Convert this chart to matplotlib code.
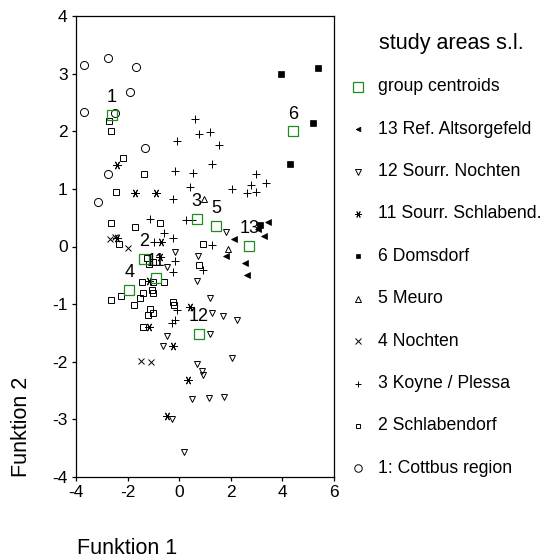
import matplotlib
matplotlib.use("Agg")
import matplotlib.pyplot as plt
from matplotlib.lines import Line2D

plt.rcParams['font.family'] = ['Liberation Sans', 'DejaVu Sans']
plt.rcParams['axes.unicode_minus'] = False

# ---- data (Funktion 1, Funktion 2) ----
g1_x = [-3.68, -2.75, -1.66, -1.91, -3.68, -2.49, -1.33, -2.75, -3.14]
g1_y = [3.15, 3.27, 3.12, 2.68, 2.34, 2.32, 1.71, 1.25, 0.77]

g2_x = [-2.72, -2.66, -2.17, -1.36, -2.45, -2.66, -1.72, -0.74, -2.34, 0.93,
        -1.25, -1.16, -1.03, 0.78, -1.45, -1.03, -0.58, -2.66, -2.27, -1.75,
        -1.52, -1.39, -1.07, -1.03, -1.13, -1.20, -1.03, -0.23, -0.20, -1.41]
g2_y = [2.18, 2.01, 1.53, 1.26, 0.95, 0.41, 0.33, 0.40, 0.04, 0.05,
        -0.20, -0.31, -0.27, -0.32, -0.61, -0.61, -0.61, -0.93, -0.86, -1.02,
        -0.90, -0.81, -0.76, -0.80, -1.09, -1.19, -1.16, -0.96, -1.02, -1.39]

g3_x = [0.61, 0.78, 1.19, 1.55, -0.10, 1.28, -0.16, 0.52, 0.43, -0.23,
        -1.13, 0.26, 0.48, 2.98, 3.35, 2.77, 2.03, 2.62, 2.98, 1.26,
        -0.59, -0.23, -0.96, -0.16, -0.23, 0.93, -0.10, -0.16, -0.29]
g3_y = [2.22, 1.95, 1.99, 1.77, 1.83, 1.44, 1.31, 1.27, 1.03, 0.83,
        0.47, 0.46, 0.46, 1.25, 1.11, 1.07, 1.00, 0.92, 0.94, 0.02,
        0.24, 0.15, 0.07, -0.25, -0.44, -0.41, -1.10, -1.28, -1.32]

g4_x = [-2.68, -2.50, -1.97, -1.48, -1.10]
g4_y = [0.13, 0.16, -0.03, -1.99, -2.00]

g5_x = [0.96, 1.88]
g5_y = [0.83, -0.05]

g6_x = [3.95, 5.38, 5.17, 4.29, 3.13]
g6_y = [3.00, 3.10, 2.15, 1.43, 0.38]

g11_x = [-2.40, -1.70, -0.91, -2.42, -0.72, -0.74, -1.16, 0.42, -1.16, -0.25, 0.33, -0.48]
g11_y = [1.41, 0.93, 0.92, 0.15, 0.07, -0.18, -0.60, -1.05, -1.39, -1.73, -2.31, -2.94]

g12_x = [1.80, -0.16, 0.72, -0.48, 0.70, 1.19, 1.28, 1.69, 2.25, 1.19, -0.48,
         -0.62, 2.03, 0.68, 0.87, 0.93, 0.48, 1.16, 1.74, -0.27, 0.19]
g12_y = [0.26, -0.10, -0.16, -0.36, -0.60, -0.89, -1.16, -1.20, -1.27, -1.51, -1.55,
         -1.72, -1.94, -2.04, -2.16, -2.23, -2.65, -2.63, -2.61, -3.00, -3.57]

g13_x = [3.45, 3.30, 2.14, 1.80, 2.55, 2.64, 3.07]
g13_y = [0.42, 0.18, 0.13, -0.16, -0.29, -0.50, 0.30]

centroid_labels = ['1', '2', '3', '4', '5', '6', '11', '12', '13']
centroid_x = [-2.62, -1.36, 0.68, -1.94, 1.43, 4.40, -0.91, 0.75, 2.72]
centroid_y = [2.29, -0.21, 0.48, -0.75, 0.36, 2.00, -0.55, -1.51, 0.01]

legend_labels = ['group centroids', '13 Ref. Altsorgefeld', '12 Sourr. Nochten',
                 '11 Sourr. Schlabend.', '6 Domsdorf', '5 Meuro', '4 Nochten',
                 '3 Koyne / Plessa', '2 Schlabendorf', '1: Cottbus region']

GREEN = '#1e8c1e'
star = (6, 2, 90)
styles = {
    'c':  dict(marker='s', ms=7.6, mfc='none', mec=GREEN, mew=0.9),
    '13': dict(marker='<', ms=4.2, mfc='black', mec='black', mew=0.5),
    '12': dict(marker='v', ms=4.6, mfc='none', mec='black', mew=0.7),
    '11': dict(marker=star, ms=6.0, mfc='none', mec='black', mew=0.7),
    '6':  dict(marker='s', ms=4.2, mfc='black', mec='black', mew=0.5),
    '5':  dict(marker='^', ms=4.6, mfc='none', mec='black', mew=0.7),
    '4':  dict(marker='x', ms=4.6, mfc='none', mec='black', mew=0.7),
    '3':  dict(marker='+', ms=6.0, mfc='none', mec='black', mew=0.7),
    '2':  dict(marker='s', ms=4.0, mfc='none', mec='black', mew=0.7),
    '1':  dict(marker='o', ms=5.8, mfc='none', mec='black', mew=0.7),
}

W, H = 544, 558
fig = plt.figure(figsize=(W / 100, H / 100), dpi=100)
ax = fig.add_axes([76 / W, 1 - 477 / H, (334 - 76) / W, (477 - 16) / H])

series = [('1', g1_x, g1_y), ('2', g2_x, g2_y), ('3', g3_x, g3_y), ('4', g4_x, g4_y),
          ('5', g5_x, g5_y), ('6', g6_x, g6_y), ('11', g11_x, g11_y),
          ('12', g12_x, g12_y), ('13', g13_x, g13_y)]
for key, xs, ys in series:
    ax.plot(xs, ys, linestyle='none', **styles[key])

ax.plot(centroid_x, centroid_y, linestyle='none', zorder=5, **styles['c'])
for lab, cx, cy in zip(centroid_labels, centroid_x, centroid_y):
    ax.annotate(lab, (cx, cy), xytext=(0, 12.3), textcoords='offset points',
                ha='center', va='center', fontsize=13, zorder=6)

ax.set_xlim(-4, 6)
ax.set_ylim(-4, 4)
ax.set_xticks([-4, -2, 0, 2, 4, 6])
ax.set_yticks([-4, -3, -2, -1, 0, 1, 2, 3, 4])
ax.tick_params(axis='both', direction='out', length=3, width=0.9, labelsize=12.5, pad=3)
for s in ax.spines.values():
    s.set_linewidth(0.9)

fig.text(22 / W, 1 - 477 / H, 'Funktion 2', rotation=90, ha='center', va='bottom', fontsize=15.5)
fig.text(77 / W, 1 - 548 / H, 'Funktion 1', ha='left', va='center', fontsize=15.5)

# legend
fig.text(451 / W, 1 - 43 / H, 'study areas s.l.', ha='center', va='center', fontsize=15.5)
keys = ['c', '13', '12', '11', '6', '5', '4', '3', '2', '1']
for i, (key, lab) in enumerate(zip(keys, legend_labels)):
    yy = 1 - (86.7 + i * 42.4) / H
    st = dict(styles[key])
    if key == 'c':
        st['ms'] = 7.0
    elif key == '1':
        st['ms'] = 5.4
    else:
        st['ms'] = st['ms'] * 0.8
    fig.add_artist(Line2D([358 / W], [yy], transform=fig.transFigure, linestyle='none', **st))
    fig.text(378 / W, yy, lab, ha='left', va='center', fontsize=12.7)

fig.savefig('out.png', dpi=100)
